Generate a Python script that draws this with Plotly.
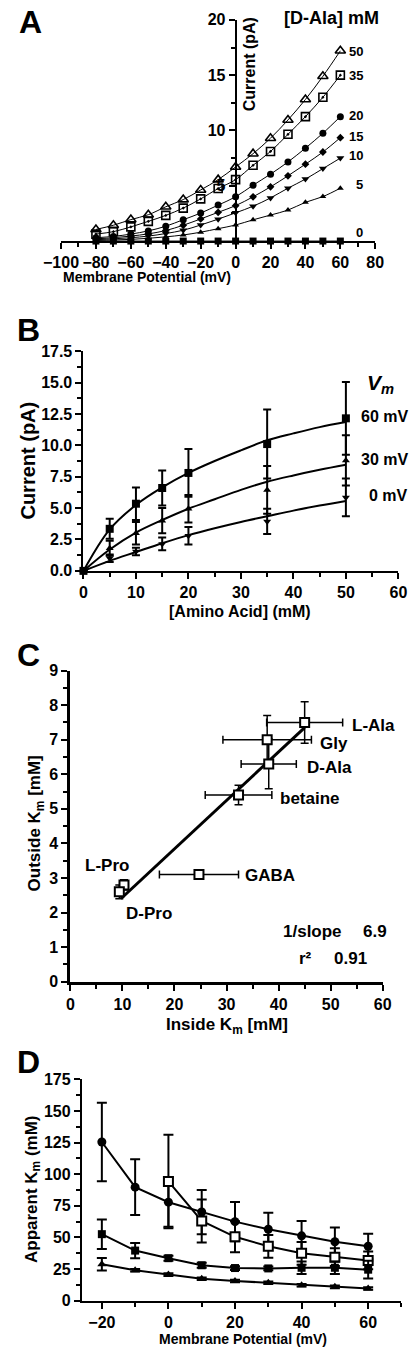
import plotly.graph_objects as go

W, H = 417, 1361
FONT = "Liberation Sans, Arial, sans-serif"


def px(x):
    return x / W


def py(y):
    return 1 - y / H


# ---------------- Panel A data ----------------
A_V = [-80, -70, -60, -50, -40, -30, -20, -10, 0, 10, 20, 30, 40, 50, 60]
A_I0 = [0, 0, 0, 0, 0, 0, 0, 0, 0, 0, 0, 0, 0, 0, 0]
A_I5 = [0.05, 0.1, 0.15, 0.25, 0.38, 0.55, 0.8, 1.12, 1.45, 1.92, 2.35, 2.8, 3.5, 4.02, 4.78]
A_I10 = [0.12, 0.2, 0.3, 0.45, 0.68, 0.98, 1.45, 1.98, 2.55, 3.15, 3.9, 4.78, 5.6, 6.55, 7.5]
A_I15 = [0.2, 0.3, 0.45, 0.65, 0.95, 1.43, 2.0, 2.6, 3.2, 4.0, 4.9, 5.9, 6.95, 8.05, 9.35]
A_I20 = [0.3, 0.42, 0.63, 0.92, 1.34, 1.93, 2.53, 3.25, 4.0, 5.05, 6.05, 7.15, 8.4, 9.75, 11.25]
A_I35 = [0.63, 0.85, 1.28, 1.78, 2.32, 2.98, 3.81, 4.75, 5.55, 6.85, 8.1, 9.65, 11.25, 13.0, 15.0]
A_I50 = [1.05, 1.43, 1.94, 2.38, 3.1, 3.75, 4.62, 5.55, 6.7, 7.9, 9.3, 10.95, 12.8, 14.9, 17.2]
A_conc_labels = ["0", "5", "10", "15", "20", "35", "50"]

# ---------------- Panel B data ----------------
B_conc = [0, 5, 10, 15, 20, 35, 50]
B_I60 = [0, 3.35, 5.35, 6.6, 7.8, 10.1, 12.15]
B_E60 = [0, 0.8, 1.3, 1.4, 1.9, 2.75, 2.9]
B_I30 = [0, 1.8, 3.0, 4.0, 4.95, 6.45, 8.8]
B_E30 = [0, 0.6, 0.9, 1.0, 1.1, 1.9, 2.0]
B_I0 = [0, 1.0, 1.55, 2.15, 2.8, 3.94, 5.85]
B_E0 = [0, 0.3, 0.3, 0.5, 0.7, 1.0, 1.5]
B_fit_x = [0, 5, 10, 15, 20, 25, 30, 35, 40, 45, 50]
B_fit60 = [0, 3.3, 5.25, 6.65, 7.8, 8.75, 9.6, 10.4, 10.95, 11.45, 11.85]
B_fit30 = [0, 1.7, 3.05, 4.05, 4.95, 5.7, 6.45, 7.1, 7.6, 8.05, 8.45]
B_fit0 = [0, 0.8, 1.5, 2.2, 2.85, 3.4, 3.9, 4.35, 4.8, 5.2, 5.57]
B_labels = ["60 mV", "30 mV", "0 mV"]

# ---------------- Panel C data ----------------
C_names = ["L-Ala", "Gly", "D-Ala", "betaine", "GABA", "L-Pro", "D-Pro"]
C_inside = [45.0, 37.8, 38.1, 32.3, 24.7, 10.3, 9.4]
C_inside_err = [7.3, 8.5, 5.3, 6.4, 7.6, 0.5, 0.4]
C_outside = [7.5, 7.0, 6.3, 5.4, 3.1, 2.8, 2.6]
C_outside_err = [0.6, 0.7, 0.72, 0.28, 0.1, 0.15, 0.2]
C_fit_x = [9.7, 45.0]
C_fit_y = [2.4, 7.35]
C_slope_text = ["1/slope", "6.9", "r²", "0.91"]

# ---------------- Panel D data ----------------
D_V = [-20, -10, 0, 10, 20, 30, 40, 50, 60]
D_circ = [125.5, 89.8, 77.9, 70.1, 62.5, 56.5, 51.3, 46.6, 43.0]
D_circ_err = [31, 22, 19.5, 17.5, 15.5, 13, 11.7, 11.2, 10]
D_osq_V = [0, 10, 20, 30, 40, 50, 60]
D_osq = [94.3, 63.0, 50.5, 43.0, 37.5, 34.4, 31.8]
D_osq_err = [37, 17, 12.3, 9, 9, 7, 7]
D_fsq = [52.6, 39.6, 33.6, 28.0, 25.8, 25.5, 26.0, 26.0, 24.5]
D_fsq_err = [11.7, 6, 2, 2, 1.5, 1.5, 5, 5, 7]
D_tri = [28.8, 24.0, 20.6, 17.4, 15.6, 14.1, 12.2, 10.9, 9.6]
D_tri_err = [5, 1, 1, 1, 1, 1, 1, 1, 1]

fig = go.Figure()

# ---- Panel A traces ----
A_series = [
    (A_I0, "square", 7, 0),
    (A_I5, "triangle-up", 6, 0),
    (A_I10, "triangle-down", 7, 0),
    (A_I15, "diamond", 6, 0),
    (A_I20, "circle", 7, 0),
    (A_I35, "square-open-dot", 8, 1.6),
    (A_I50, "triangle-up-open", 9, 1.6),
]
for vals, sym, size, lw in A_series:
    fig.add_trace(go.Scatter(
        x=A_V, y=vals, mode="lines+markers", xaxis="x", yaxis="y",
        line=dict(color="black", width=1, shape="spline"),
        marker=dict(symbol=sym, size=size, color="black",
                    line=dict(color="black", width=lw)),
        cliponaxis=False, showlegend=False))

# ---- Panel B traces ----
for fy in (B_fit60, B_fit30, B_fit0):
    fig.add_trace(go.Scatter(
        x=B_fit_x, y=fy, mode="lines", xaxis="x2", yaxis="y2",
        line=dict(color="black", width=2, shape="spline"),
        cliponaxis=False, showlegend=False))
for vals, errs, sym, size in [(B_I60, B_E60, "square", 8),
                              (B_I30, B_E30, "triangle-up", 7),
                              (B_I0, B_E0, "triangle-down", 7)]:
    fig.add_trace(go.Scatter(
        x=B_conc, y=vals, mode="markers", xaxis="x2", yaxis="y2",
        marker=dict(symbol=sym, size=size, color="black"),
        error_y=dict(type="data", array=errs, color="black", thickness=2, width=4),
        cliponaxis=False, showlegend=False))

# ---- Panel C traces ----
fig.add_trace(go.Scatter(
    x=C_fit_x, y=C_fit_y, mode="lines", xaxis="x3", yaxis="y3",
    line=dict(color="black", width=3), showlegend=False))
fig.add_trace(go.Scatter(
    x=C_inside, y=C_outside, mode="markers", xaxis="x3", yaxis="y3",
    marker=dict(symbol="square", size=9, color="white",
                line=dict(color="black", width=2)),
    error_x=dict(type="data", array=C_inside_err, color="black", thickness=1.5, width=4),
    error_y=dict(type="data", array=C_outside_err, color="black", thickness=1.5, width=4),
    cliponaxis=False, showlegend=False))

# ---- Panel D traces ----
for xs, vals, errs, sym, size, fill in [
        (D_V, D_circ, D_circ_err, "circle", 9, "black"),
        (D_osq_V, D_osq, D_osq_err, "square", 9, "white"),
        (D_V, D_fsq, D_fsq_err, "square", 8, "black"),
        (D_V, D_tri, D_tri_err, "triangle-up", 8, "black")]:
    fig.add_trace(go.Scatter(
        x=xs, y=vals, mode="lines+markers", xaxis="x4", yaxis="y4",
        line=dict(color="black", width=2),
        marker=dict(symbol=sym, size=size, color=fill,
                    line=dict(color="black", width=2 if fill == "white" else 0)),
        error_y=dict(type="data", array=errs, color="black", thickness=2, width=5),
        cliponaxis=False, showlegend=False))


def axis_style(**kw):
    d = dict(showline=True, linecolor="black", linewidth=2, ticks="outside",
             ticklen=6, tickwidth=2, tickcolor="black", showgrid=False,
             zeroline=False, fixedrange=True,
             tickfont=dict(family=FONT, size=16, color="black", weight="bold"))
    d.update(kw)
    return d


def minor(dt):
    return dict(ticks="outside", ticklen=4, tickwidth=2, tickcolor="black", dtick=dt, showgrid=False)


layout = dict(
    width=W, height=H, margin=dict(l=0, r=0, t=0, b=0),
    paper_bgcolor="white", plot_bgcolor="white", showlegend=False,
    # Panel A
    xaxis=axis_style(domain=[px(46), px(382)], range=[-100, 80], anchor="y",
                     tickmode="linear", tick0=-100, dtick=20, minor=minor(10)),
    yaxis=axis_style(domain=[py(236), py(12)], range=[0, 20], anchor="free",
                     position=px(232.7), tickmode="array", tickvals=[5, 10, 15, 20],
                     minor=dict(ticks="outside", ticklen=4, tickwidth=2, tickcolor="black",
                                tickmode="array", tickvals=[2.5, 7.5, 12.5, 17.5])),
    # Panel B
    xaxis2=axis_style(domain=[px(70), px(406.7)], range=[0, 60], anchor="y2",
                      tickmode="linear", tick0=0, dtick=10, minor=minor(5)),
    yaxis2=axis_style(domain=[py(570), py(347.5)], range=[0, 17.5], anchor="x2",
                      tickmode="linear", tick0=0, dtick=2.5, tickformat=".1f",
                      minor=minor(1.25)),
    # Panel C
    xaxis3=axis_style(domain=[px(56), px(390)], range=[0, 60], anchor="y3",
                      tickmode="linear", tick0=0, dtick=10, minor=minor(5), linewidth=3),
    yaxis3=axis_style(domain=[py(986), py(671)], range=[0, 9], anchor="x3",
                      tickmode="linear", tick0=0, dtick=1, minor=minor(0.5), linewidth=3),
    # Panel D
    xaxis4=axis_style(domain=[px(68.3), px(410)], range=[-26, 70], anchor="y4",
                      tickmode="linear", tick0=-20, dtick=20, minor=minor(10)),
    yaxis4=axis_style(domain=[py(1309), py(1085)], range=[0, 175], anchor="x4",
                      tickmode="linear", tick0=0, dtick=25, minor=minor(12.5)),
)
fig.update_layout(**layout)

ann = []


def text(x, y, s, size=16, angle=0, italic=False, xanchor="center"):
    ann.append(dict(x=px(x), y=py(y), xref="paper", yref="paper", text=s,
                    showarrow=False, textangle=angle, xanchor=xanchor, yanchor="middle",
                    font=dict(family=FONT, size=size, color="black", weight="bold",
                              style="italic" if italic else "normal")))


# Panel letters
text(13, 14, "A", 32)
text(11, 326, "B", 32)
text(11, 655, "C", 32)
text(11, 1067, "D", 32)

# Panel A texts
text(247, 57, "Current (pA)", 16, angle=-90)
text(138, 272, "Membrane Potential (mV)", 14)
text(335, 10, "[D-Ala] mM", 18)
A_label_y = [227, 179, 149, 130, 109, 68, 44]
A_label_x = [365, 365, 361, 361, 361, 361, 361]
for lab, lx, ly in zip(A_conc_labels, A_label_x, A_label_y):
    text(lx, ly, lab, 13)

# Panel B texts
text(11, 458, "Current (pA)", 20, angle=-90)
text(237, 611, "[Amino Acid] (mM)", 16)
text(388, 381, "V<sub>m</sub>", 21, italic=True)
for lab, lx, ly in zip(B_labels, [392, 392, 396], [414, 457, 494]):
    text(lx, ly, lab, 16)

# Panel C texts
text(19, 826, "Outside K<sub>m</sub> [mM]", 17, angle=-90)
text(223, 1031, "Inside K<sub>m</sub> [mM]", 17)
C_label_x = [380, 338, 333, 312, 269, 95, 140]
C_label_y = [727, 745, 769, 800, 878, 868, 917]
for lab, lx, ly in zip(C_names, C_label_x, C_label_y):
    text(lx, ly, lab, 17)
for lab, lx, ly in zip(C_slope_text, [315, 382, 307, 355], [935, 935, 963, 963]):
    text(lx, ly, lab, 17)

# Panel D texts
text(16, 1196, "Apparent K<sub>m</sub> (mM)", 17, angle=-90)
text(241, 1348, "Membrane Potential (mV)", 14)

fig.update_layout(annotations=ann)
fig.write_html("out.html", config={"displayModeBar": False},
               post_script="document.body.style.margin='0';document.body.style.overflow='hidden';")
